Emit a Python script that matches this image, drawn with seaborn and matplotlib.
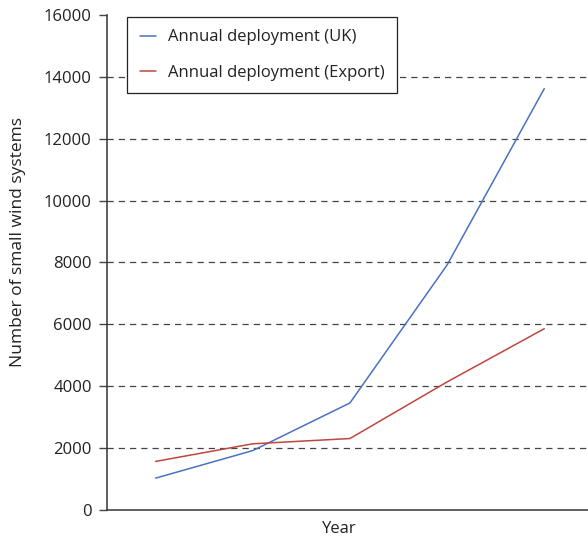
import matplotlib
matplotlib.use("Agg")
import matplotlib.pyplot as plt
import seaborn as sns
import pandas as pd

steps = [0, 1, 2, 3, 4]
uk_values = [1030, 1920, 3460, 7920, 13620]
export_values = [1570, 2140, 2310, 4140, 5860]
series_names = ["Annual deployment (UK)", "Annual deployment (Export)"]
y_ticks = [0, 2000, 4000, 6000, 8000, 10000, 12000, 14000, 16000]

df = pd.DataFrame({
    "step": steps * 2,
    "value": uk_values + export_values,
    "series": [series_names[0]] * len(steps) + [series_names[1]] * len(steps),
})

sns.set_style("white")
plt.rcParams['font.family'] = ['Open Sans', 'DejaVu Sans']

fig = plt.figure(figsize=(5.88, 5.41), dpi=100)
ax = fig.add_axes([0.182, 0.0573, 0.818, 0.915])

sns.lineplot(data=df, x="step", y="value", hue="series",
             palette=["#4a72c0", "#c0463f"], linewidth=1.1, ax=ax)

ax.set_xlim(-0.5, 4.45)
ax.set_ylim(0, 16000)
ax.set_yticks(y_ticks)
ax.set_yticklabels([str(t) for t in y_ticks], fontsize=12, color="#222222")
ax.set_xticks([])
for t in y_ticks[1:-1]:
    ax.axhline(t, color="#444444", linestyle=(0, (5, 4)), linewidth=0.9, zorder=0)

ax.tick_params(axis="y", direction="out", length=6, width=1, color="#444444", left=True, pad=5)
for s in ["top", "right"]:
    ax.spines[s].set_visible(False)
for s in ["left", "bottom"]:
    ax.spines[s].set_color("#333333")
    ax.spines[s].set_linewidth(1.1)

ax.set_xlabel("Year", fontsize=12, color="#222222")
ax.set_ylabel("Number of small wind systems", fontsize=12.5, color="#222222")
ax.yaxis.set_label_coords(-0.168, 0.542)
ax.xaxis.set_label_coords(0.482, -0.022)

leg = ax.legend(loc="upper left", bbox_to_anchor=(0.042, 0.996), frameon=True,
                fancybox=False, edgecolor="#222222", framealpha=1,
                fontsize=12, handlelength=1.0, handletextpad=0.7,
                labelspacing=1.15, borderpad=0.75, borderaxespad=0)
leg.get_frame().set_linewidth(0.9)
for txt in leg.get_texts():
    txt.set_color("#222222")

fig.savefig("out.png", dpi=100)
